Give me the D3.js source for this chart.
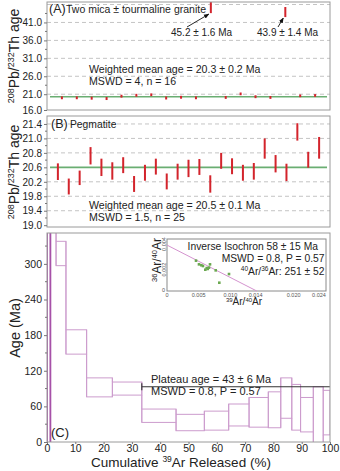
<!DOCTYPE html>
<html><head><meta charset="utf-8">
<script src="https://cdn.jsdelivr.net/npm/d3@7"></script>
<style>body{margin:0;background:#fff;} svg{display:block;font-family:"Liberation Sans",Arial,sans-serif;}</style>
</head><body><svg id="c" width="340" height="471"></svg>
<script>
// ---------- Panel A data ----------
const agesA = [20.0, 20.0, 19.9, 19.8, 20.45, 20.7, 20.85, 19.95, 20.15, 20.0, 45.2, 20.1, 21.1, 20.3, 20.1, 43.9, 20.55, 20.65];
const errA  = [0.4, 0.4, 0.42, 0.42, 0.4, 0.4, 0.38, 0.42, 0.4, 0.4, 1.6, 0.4, 0.38, 0.4, 0.4, 1.4, 0.38, 0.38];
const tickLabelsA = ["16.0", "21.0", "26.0", "31.0", "36.0", "41.0"];
const gridA = [21, 26, 31, 36, 41, 46];
const meanA = 20.3;
const outlierLabelsA = ["45.2 ± 1.6 Ma", "43.9 ± 1.4 Ma"];
const textA = ["Weighted mean age = 20.3 ± 0.2 Ma", "MSWD = 4, n = 16"];

// ---------- Panel B data ----------
const agesB = [20.48, 20.07, 20.31, 20.92, 20.60, 20.50, 20.66, 20.14, 20.45, 20.62, 20.21, 20.48, 20.57, 20.61, 20.14, 20.78, 20.63, 20.45, 20.49, 21.12, 20.70, 20.46, 21.58, 20.81, 21.14];
const errB  = [0.23, 0.22, 0.20, 0.24, 0.24, 0.24, 0.22, 0.22, 0.22, 0.22, 0.22, 0.22, 0.24, 0.22, 0.24, 0.22, 0.22, 0.22, 0.23, 0.28, 0.24, 0.24, 0.24, 0.22, 0.30];
const tickValsB = [19.0, 19.4, 19.8, 20.2, 20.6, 21.0, 21.4, 21.8];
const tickLabelsB = ["19.0", "19.4", "19.8", "20.2", "20.6", "20.8", "21.0", "21.4"];
const meanB = 20.6;
const textB = ["Weighted mean age = 20.5 ± 0.1 Ma", "MSWD = 1.5, n = 25"];

// ---------- Panel C data (age spectrum) ----------
const stepCum  = [0, 1.2, 3.2, 6.7, 14.0, 23.1, 33.5, 45.6, 55.6, 64.2, 71.4, 78.2, 82.6, 86.5, 89.6, 94.1, 97.6, 100];
const stepLow  = [-60, 360, 297, 148, 76, 79, 33, 19, 20, 27, 25, 24, 40, 20, 17, -20, 12];
const stepHigh = [700, 480, 338, 189, 108, 101, 55.5, 46.6, 52, 64, 75, 84.5, 108, 97, 75, 93, 87];
const ticksCy = [0, 60, 120, 180, 240, 300];
const ticksCx = [0, 10, 20, 30, 40, 50, 60, 70, 80, 90, 100];
const plateauFrom = 33.5, plateauLineAge = 93;
const textC = ["Plateau age = 43 ± 6 Ma", "MSWD = 0.8, P = 0.57"];

// ---------- Inset isochron ----------
const isoX = [0.00458, 0.00505, 0.00542, 0.00568, 0.00605, 0.00627, 0.00643, 0.00663, 0.00679, 0.00769, 0.00979, 0.00826];
const isoY = [0.00238, 0.00209, 0.00202, 0.00196, 0.00167, 0.00180, 0.00173, 0.00183, 0.00209, 0.00162, 0.00133, 0.00065];
const isoLine = {x0: 0, y0: 0.0036, x1: 0.01417, y1: 0};
const isoTickX = [0, 0.005, 0.010, 0.014, 0.020, 0.024];
const isoTickXLabels = ["0", "0.005", "0.010", "0.014", "0.020", "0.024"];
const isoTickY = [0.002, 0.004];
const isoTickYLabels = ["0.002", "0.004"];
const isoText = ["Inverse Isochron 58 ± 15 Ma", "MSWD = 0.8, P = 0.57"];

const svg = d3.select("#c");
const TXT = "#222", FR = "#9a9a9a", RED = "#d3242c", GREEN = "#6aae72", GRID = "#c4c4c4";
const L = 47, R = 330;
const FONT = "Liberation Sans, Arial, sans-serif";

function frame(y0, y1) {
  svg.append("rect").attr("x", L).attr("y", y0).attr("width", R - L).attr("height", y1 - y0)
    .attr("fill", "none").attr("stroke", FR).attr("stroke-width", 1);
}
function yLabelPb(cy) {
  const t = svg.append("text").attr("transform", `translate(19,${cy}) rotate(-90)`)
    .attr("text-anchor", "middle").attr("font-size", 14).attr("fill", TXT);
  t.append("tspan").attr("font-size", 9).attr("dy", -5).text("208");
  t.append("tspan").attr("dy", 5).text("Pb/");
  t.append("tspan").attr("font-size", 9).attr("dy", -5).text("232");
  t.append("tspan").attr("dy", 5).text("Th age");
}
function styleAxis(g, fs) {
  g.select(".domain").remove();
  g.selectAll("line").attr("stroke", "#777");
  g.selectAll("text").attr("font-size", fs).attr("fill", TXT).attr("font-family", FONT);
}

// ================= Panel A =================
const yA = d3.scaleLinear().domain([16.6, 46.7]).range([110, 2]);
const xA = d3.scaleLinear().domain([0, agesA.length + 1]).range([L, R]);
svg.append("g").selectAll("line").data(gridA).join("line")
  .attr("x1", L).attr("x2", R).attr("y1", d => yA(d)).attr("y2", d => yA(d))
  .attr("stroke", GRID).attr("stroke-dasharray", "4,3");
svg.append("line").attr("x1", 50).attr("x2", 327).attr("y1", yA(meanA)).attr("y2", yA(meanA))
  .attr("stroke", GREEN).attr("stroke-width", 1.6);
const clipA = svg.append("clipPath").attr("id", "clA");
clipA.append("rect").attr("x", L).attr("y", 2).attr("width", R - L).attr("height", 108);
svg.append("g").attr("clip-path", "url(#clA)").selectAll("rect").data(agesA).join("rect")
  .attr("x", (d, i) => xA(i + 1) - 1).attr("width", 2)
  .attr("y", (d, i) => yA(d + errA[i])).attr("height", (d, i) => yA(d - errA[i]) - yA(d + errA[i]))
  .attr("fill", RED);
frame(2, 110);
const axA = d3.axisLeft(yA).tickValues(tickLabelsA.map(s => Math.max(+s, yA.domain()[0])))
  .tickFormat((d, i) => tickLabelsA[i]).tickSize(3).tickPadding(2);
svg.append("g").attr("transform", `translate(${L},0)`).call(axA).call(g => styleAxis(g, 10));
svg.append("g").selectAll("line").data(gridA.slice(0, -1).map(v => v + 2.5)).join("line")
  .attr("x1", L - 2).attr("x2", L).attr("y1", d => yA(d)).attr("y2", d => yA(d)).attr("stroke", "#777");
yLabelPb(56);
svg.append("text").attr("x", 49).attr("y", 13).attr("font-size", 12.5).attr("fill", TXT).text("(A)");
svg.append("text").attr("x", 66).attr("y", 13).attr("font-size", 10.5).attr("fill", TXT).text("Two mica ± tourmaline granite");
const outIdx = agesA.map((d, i) => d > 30 ? i : -1).filter(i => i >= 0);
const labX = [171, 257];
const arrowFrom = [[187, 27], [278, 27]];
svg.append("defs").append("marker").attr("id", "ah").attr("viewBox", "0 0 10 10").attr("refX", 9).attr("refY", 5)
  .attr("markerWidth", 6).attr("markerHeight", 6).attr("orient", "auto")
  .append("path").attr("d", "M0,1 L10,5 L0,9 Z").attr("fill", "#111");
outIdx.forEach((idx, k) => {
  svg.append("text").attr("x", labX[k]).attr("y", 35.5).attr("font-size", 10).attr("fill", TXT).text(outlierLabelsA[k]);
  svg.append("line").attr("x1", arrowFrom[k][0]).attr("y1", arrowFrom[k][1])
    .attr("x2", xA(idx + 1) - 2).attr("y2", yA(agesA[idx] - errA[idx]) + 1)
    .attr("stroke", "#111").attr("stroke-width", 0.9).attr("marker-end", "url(#ah)");
});
textA.forEach((t, k) => svg.append("text").attr("x", 89).attr("y", 73 + k * 11.5).attr("font-size", 10.6).attr("fill", TXT).text(t));

// ================= Panel B =================
const yB = d3.scaleLinear().domain([18.95, 22.02]).range([227, 116]);
const xB = d3.scaleLinear().domain([0, agesB.length + 1]).range([L, R]);
svg.append("g").selectAll("line").data(tickValsB.filter(v => v > 19.0 && v !== meanB)).join("line")
  .attr("x1", L).attr("x2", R).attr("y1", d => yB(d)).attr("y2", d => yB(d))
  .attr("stroke", GRID).attr("stroke-dasharray", "4,3");
svg.append("line").attr("x1", 50).attr("x2", 327).attr("y1", yB(meanB)).attr("y2", yB(meanB))
  .attr("stroke", GREEN).attr("stroke-width", 1.6);
svg.append("g").selectAll("rect").data(agesB).join("rect")
  .attr("x", (d, i) => xB(i + 1) - 1).attr("width", 2)
  .attr("y", (d, i) => yB(d + errB[i])).attr("height", (d, i) => yB(d - errB[i]) - yB(d + errB[i]))
  .attr("fill", RED);
frame(116, 227);
const axB = d3.axisLeft(yB).tickValues(tickValsB).tickFormat((d, i) => tickLabelsB[i]).tickSize(3).tickPadding(2);
svg.append("g").attr("transform", `translate(${L},0)`).call(axB).call(g => styleAxis(g, 10));
svg.append("g").selectAll("line").data(d3.pairs(tickValsB).map(p => (p[0] + p[1]) / 2)).join("line")
  .attr("x1", L - 2).attr("x2", L).attr("y1", d => yB(d)).attr("y2", d => yB(d)).attr("stroke", "#777");
yLabelPb(172);
svg.append("text").attr("x", 51).attr("y", 128).attr("font-size", 12.5).attr("fill", TXT).text("(B)");
svg.append("text").attr("x", 70).attr("y", 128).attr("font-size", 10.3).attr("fill", TXT).text("Pegmatite");
textB.forEach((t, k) => svg.append("text").attr("x", 89).attr("y", 209 + k * 12).attr("font-size", 10.6).attr("fill", TXT).text(t));

// ================= Panel C =================
const xC = d3.scaleLinear().domain([0, 100]).range([L, R]);
const yC = d3.scaleLinear().domain([0, 352]).range([442, 233]);
const clipC = svg.append("clipPath").attr("id", "clC");
clipC.append("rect").attr("x", L).attr("y", 233).attr("width", R - L).attr("height", 209);
const gS = svg.append("g").attr("clip-path", "url(#clC)");
const PINK = "#cc9ccd";
const steps = stepLow.map((lo, i) => ({i, x0: stepCum[i], x1: stepCum[i + 1], lo, hi: stepHigh[i]}));
const conns = d3.range(1, steps.length).flatMap(i => [
  {x: stepCum[i], a: stepHigh[i - 1], b: stepHigh[i]},
  {x: stepCum[i], a: stepLow[i - 1], b: stepLow[i]}]);
gS.selectAll("line.cn").data(conns).join("line").attr("class", "cn")
  .attr("x1", d => xC(d.x)).attr("x2", d => xC(d.x)).attr("y1", d => yC(d.a)).attr("y2", d => yC(d.b))
  .attr("stroke", PINK).attr("stroke-width", 1);
gS.selectAll("rect").data(steps).join("rect")
  .attr("x", d => xC(d.x0)).attr("width", d => xC(d.x1) - xC(d.x0))
  .attr("y", d => yC(d.hi)).attr("height", d => yC(d.lo) - yC(d.hi))
  .attr("fill", "none")
  .attr("stroke", d => d.i === 0 ? "#a651a8" : PINK)
  .attr("stroke-width", d => d.i === 0 ? 1.8 : 1);
svg.append("line").attr("x1", xC(plateauFrom)).attr("x2", xC(100)).attr("y1", yC(plateauLineAge)).attr("y2", yC(plateauLineAge))
  .attr("stroke", "#333").attr("stroke-width", 1.1);
svg.append("line").attr("x1", xC(plateauFrom)).attr("x2", xC(plateauFrom)).attr("y1", yC(plateauLineAge) - 3.5).attr("y2", yC(plateauLineAge) + 3.5)
  .attr("stroke", "#333").attr("stroke-width", 1.1);
textC.forEach((t, k) => svg.append("text").attr("x", 151).attr("y", 382.5 + k * 12).attr("font-size", 11).attr("fill", TXT).text(t));
frame(233, 442);
const axCy = d3.axisLeft(yC).tickValues(ticksCy).tickFormat(d3.format("d")).tickSize(3).tickPadding(2);
svg.append("g").attr("transform", `translate(${L},0)`).call(axCy).call(g => styleAxis(g, 10.5));
svg.append("g").selectAll("line").data(d3.pairs(ticksCy.concat([360])).map(p => (p[0] + p[1]) / 2).filter(v => v < 352)).join("line")
  .attr("x1", L - 2).attr("x2", L).attr("y1", d => yC(d)).attr("y2", d => yC(d)).attr("stroke", "#777");
const axCx = d3.axisBottom(xC).tickValues(ticksCx).tickFormat(d3.format("d")).tickSize(2).tickPadding(1);
svg.append("g").attr("transform", `translate(0,442)`).call(axCx).call(g => styleAxis(g, 10.5));
svg.append("text").attr("x", 51).attr("y", 437).attr("font-size", 13).attr("fill", TXT).text("(C)");
{
  const t = svg.append("text").attr("x", 181).attr("y", 466.5).attr("text-anchor", "middle").attr("font-size", 13.5).attr("fill", TXT);
  t.append("tspan").text("Cumulative ");
  t.append("tspan").attr("font-size", 8.5).attr("dy", -4.5).text("39");
  t.append("tspan").attr("dy", 4.5).text("Ar Released (%)");
}
svg.append("text").attr("transform", "translate(20,328) rotate(-90)").attr("text-anchor", "middle")
  .attr("font-size", 14.5).attr("fill", TXT).text("Age (Ma)");

// ================= Inset =================
const xI = d3.scaleLinear().domain([0, 0.024]).range([167, 319]);
const yI = d3.scaleLinear().domain([0, 0.004]).range([291, 240]);
svg.append("rect").attr("x", 167).attr("y", 239).attr("width", 159).attr("height", 52)
  .attr("fill", "#fff").attr("stroke", "#8a8a8a").attr("stroke-width", 1);
svg.append("line").attr("x1", xI(isoLine.x0)).attr("y1", yI(isoLine.y0)).attr("x2", xI(isoLine.x1)).attr("y2", yI(isoLine.y1))
  .attr("stroke", "#d493cf").attr("stroke-width", 1);
svg.append("g").selectAll("rect").data(isoX).join("rect")
  .attr("x", (d, i) => xI(d) - 1.3).attr("y", (d, i) => yI(isoY[i]) - 1.3).attr("width", 2.6).attr("height", 2.6)
  .attr("fill", "#6aa84f");
svg.append("g").selectAll("text").data(isoTickX).join("text")
  .attr("x", d => xI(d)).attr("y", 296.5).attr("text-anchor", "middle").attr("font-size", 5.5).attr("fill", "#555")
  .text((d, i) => isoTickXLabels[i]);
svg.append("g").selectAll("text").data(isoTickY).join("text")
  .attr("transform", d => `translate(165.5,${yI(d) + 4}) rotate(-90)`).attr("text-anchor", "middle")
  .attr("font-size", 5.5).attr("fill", "#555").text((d, i) => isoTickYLabels[i]);
svg.append("text").attr("x", 162).attr("y", 292).attr("font-size", 5.5).attr("fill", "#555").text("0");
{
  const t = svg.append("text").attr("x", 244).attr("y", 305).attr("text-anchor", "middle").attr("font-size", 10).attr("fill", TXT);
  t.append("tspan").attr("font-size", 6).attr("dy", -3.5).text("39");
  t.append("tspan").attr("dy", 3.5).text("Ar/");
  t.append("tspan").attr("font-size", 6).attr("dy", -3.5).text("40");
  t.append("tspan").attr("dy", 3.5).text("Ar");
}
{
  const t = svg.append("text").attr("transform", "translate(161,260) rotate(-90)").attr("text-anchor", "middle").attr("font-size", 12).attr("fill", TXT);
  t.append("tspan").attr("font-size", 7.5).attr("dy", -4).text("36");
  t.append("tspan").attr("dy", 4).text("Ar/");
  t.append("tspan").attr("font-size", 7.5).attr("dy", -4).text("40");
  t.append("tspan").attr("dy", 4).text("Ar");
}
svg.append("text").attr("x", 318).attr("y", 250).attr("text-anchor", "end").attr("font-size", 10.3).attr("fill", TXT).text(isoText[0]);
svg.append("text").attr("x", 324.5).attr("y", 262).attr("text-anchor", "end").attr("font-size", 10.3).attr("fill", TXT).text(isoText[1]);
{
  const t = svg.append("text").attr("x", 324.5).attr("y", 274.5).attr("text-anchor", "end").attr("font-size", 10.3).attr("fill", TXT);
  t.append("tspan").attr("font-size", 6.5).attr("dy", -4).text("40");
  t.append("tspan").attr("dy", 4).text("Ar/");
  t.append("tspan").attr("font-size", 6.5).attr("dy", -4).text("36");
  t.append("tspan").attr("dy", 4).text("Ar: 251 ± 52");
}
</script></body></html>
